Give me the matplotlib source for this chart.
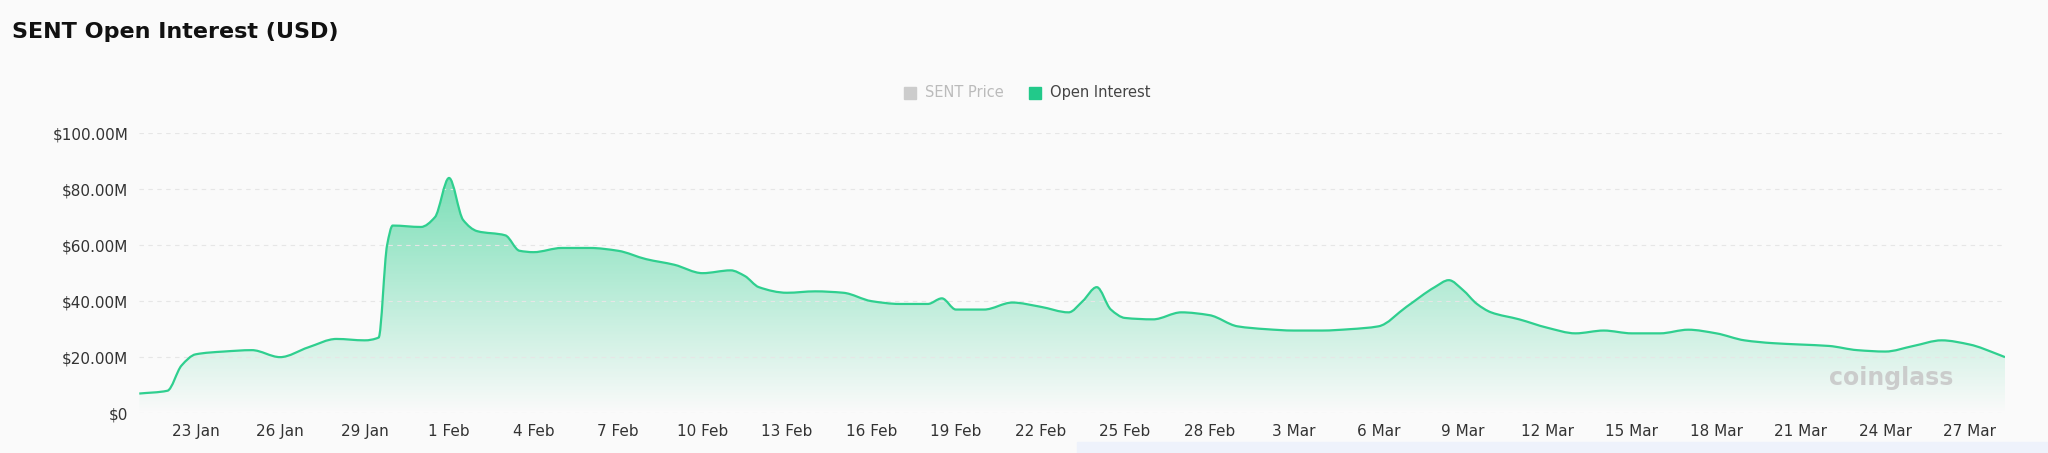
import matplotlib
matplotlib.use('Agg')
import matplotlib.pyplot as plt
import matplotlib.dates as mdates
from matplotlib.patches import Rectangle, PathPatch
from matplotlib.path import Path
from matplotlib.colors import LinearSegmentedColormap
import numpy as np
import pandas as pd

# Open interest readings (day offset from 21 Jan, value in $M)
day_offsets = [0, 1, 1.5, 2, 3, 4, 5, 6, 7, 8, 8.5, 8.8, 9, 10, 10.5, 11, 11.5, 12, 13, 13.5,
               14, 15, 16, 17, 18, 19, 20, 21, 21.5, 22, 23, 24, 25, 26, 27, 28, 28.5, 29, 30,
               31, 32, 33, 33.5, 34, 34.5, 35, 36, 37, 38, 39, 40, 41, 42, 43, 44, 45, 46, 46.5,
               47, 47.5, 48, 49, 50, 51, 52, 53, 54, 55, 56, 57, 58, 59, 60, 61, 62, 63, 64, 65,
               66, 66.25]
oi_values = [7, 8, 17, 21, 22, 22.5, 20, 23.5, 26.5, 26, 27, 60, 67, 66.5, 70, 84, 69, 65, 63.5, 58,
             57.5, 59, 59, 58, 55, 53, 50, 51, 49, 45, 43, 43.5, 43, 40, 39, 39, 41, 37, 37,
             39.5, 38, 36, 40, 45, 37, 34, 33.5, 36, 35, 31, 30, 29.5, 29.5, 30, 31, 38, 45, 47.5,
             44, 39, 36, 33.5, 30.5, 28.5, 29.5, 28.5, 28.5, 29.8, 28.5, 26, 25, 24.5, 24, 22.5,
             22, 24, 26, 24.5, 21, 20]

tick_days = ['2025-01-23', '2025-01-26', '2025-01-29', '2025-02-01', '2025-02-04', '2025-02-07',
             '2025-02-10', '2025-02-13', '2025-02-16', '2025-02-19', '2025-02-22', '2025-02-25',
             '2025-02-28', '2025-03-03', '2025-03-06', '2025-03-09', '2025-03-12', '2025-03-15',
             '2025-03-18', '2025-03-21', '2025-03-24', '2025-03-27']
y_ticks = [0, 20, 40, 60, 80, 100]
y_labels = ['$0', '$20.00M', '$40.00M', '$60.00M', '$80.00M', '$100.00M']

GREEN = '#2fcf8f'
BG = '#fafafa'


def smooth_path(x, y):
    """Monotone cubic Bezier path through the points (like a smoothed chart line)."""
    h = np.diff(x)
    d = np.diff(y) / h
    m = np.zeros_like(y)
    for i in range(1, len(y) - 1):
        if d[i - 1] * d[i] > 0:
            w1, w2 = 2 * h[i] + h[i - 1], h[i] + 2 * h[i - 1]
            m[i] = (w1 + w2) / (w1 / d[i - 1] + w2 / d[i])
    m[0], m[-1] = d[0], d[-1]
    verts = [(x[0], y[0])]
    codes = [Path.MOVETO]
    for i in range(len(x) - 1):
        verts += [(x[i] + h[i] / 3, y[i] + m[i] * h[i] / 3),
                  (x[i + 1] - h[i] / 3, y[i + 1] - m[i + 1] * h[i] / 3),
                  (x[i + 1], y[i + 1])]
        codes += [Path.CURVE4] * 3
    return verts, codes


dates = pd.Timestamp('2025-01-21') + pd.to_timedelta(day_offsets, unit='D')
x = mdates.date2num(dates)
y = np.array(oi_values, dtype=float)

fig = plt.figure(figsize=(20.48, 4.53), dpi=100, facecolor=BG)
ax = fig.add_axes([0.068, 0.088, 0.911, 0.618], facecolor=BG)

verts, codes = smooth_path(x, y)
line_path = Path(verts, codes)
area_path = Path(verts + [(x[-1], 0), (x[0], 0), (x[0], y[0])],
                 codes + [Path.LINETO, Path.LINETO, Path.CLOSEPOLY])

# gradient fill under the line
grad = np.linspace(0, 1, 256).reshape(-1, 1)
cmap = LinearSegmentedColormap.from_list('g', [(0.18, 0.81, 0.56, 0.0), (0.18, 0.81, 0.56, 0.62)])
img = ax.imshow(grad, extent=[x[0], x[-1], 0, y.max()], origin='lower', aspect='auto',
                cmap=cmap, zorder=1)
img.set_clip_path(area_path, transform=ax.transData)
ax.add_patch(PathPatch(line_path, facecolor='none', edgecolor=GREEN, lw=1.6, zorder=3))

ax.set_xlim(x[0], x[-1])
ax.set_ylim(0, 100)
ax.set_yticks(y_ticks)
ax.set_yticklabels(y_labels)
ticks = mdates.date2num(pd.to_datetime(tick_days))
ax.set_xticks(ticks)
ax.set_xticklabels([f'{d.day} {d.strftime("%b")}' for d in pd.to_datetime(tick_days)])
ax.grid(axis='y', color='#e6e6e6', ls=(0, (4, 4)), lw=0.8)
ax.tick_params(length=0, labelsize=11, colors='#333333', pad=8)
for s in ax.spines.values():
    s.set_visible(False)

fig.text(0.006, 0.93, 'SENT Open Interest (USD)', fontsize=16, fontweight='bold', color='#111111',
         va='center')

# legend
fig.patches.append(Rectangle((0.4415, 0.782), 0.0058, 0.026, transform=fig.transFigure,
                             color='#cccccc'))
fig.text(0.4515, 0.795, 'SENT Price', fontsize=10.5, color='#bbbbbb', va='center')
fig.patches.append(Rectangle((0.5025, 0.782), 0.0058, 0.026, transform=fig.transFigure,
                             color='#22c98a'))
fig.text(0.5125, 0.795, 'Open Interest', fontsize=10.5, color='#444444', va='center')

# watermark and scrollbar strip
fig.text(0.893, 0.165, 'coinglass', fontsize=17, fontweight='bold', color='#c8c8c8', va='center',
         alpha=0.9)
fig.patches.append(Rectangle((0.526, 0.0), 0.474, 0.025, transform=fig.transFigure,
                             color='#eef2fb'))

fig.savefig('out.png', dpi=100, facecolor=BG)
